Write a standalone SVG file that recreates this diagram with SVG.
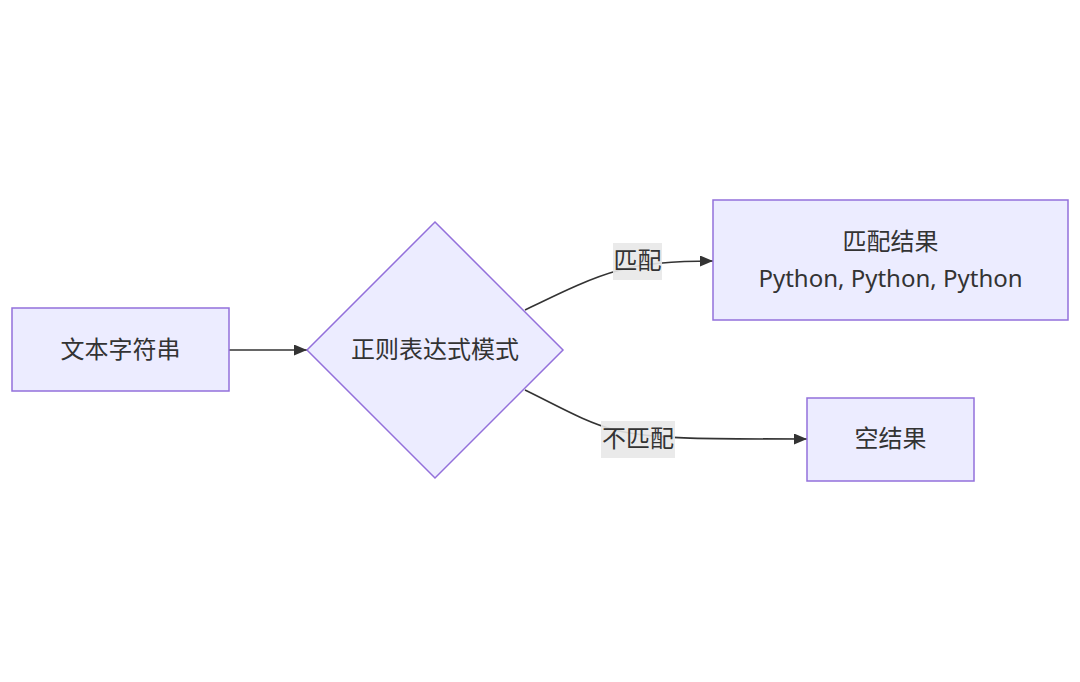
<svg xmlns="http://www.w3.org/2000/svg" width="1080" height="682" viewBox="0 0 1080 682">
<defs>
<style>
.node{fill:#ECECFF;stroke:#9370DB;stroke-width:1.5}
.t{font-family:"Noto Sans","Noto Sans CJK SC",sans-serif;font-size:24px;fill:#333;text-anchor:middle;dominant-baseline:central}
.e{fill:none;stroke:#333;stroke-width:1.6}
.lb{fill:#E8E8E8;opacity:0.9}
</style>
<marker id="arr" viewBox="0 0 13 11" refX="13" refY="5.5" markerWidth="13" markerHeight="11" markerUnits="userSpaceOnUse" orient="auto">
<path d="M0,0 L13,5.5 L0,11 z" fill="#333"/>
</marker>
</defs>
<rect width="1080" height="682" fill="#fff"/>
<g id="edges">
<path class="e" d="M229,350 L307,350" marker-end="url(#arr)"/>
<path class="e" d="M525,310 C560,293 590,278 620,270 C645,263 680,261 713,261" marker-end="url(#arr)"/>
<path class="e" d="M525,390 C560,407 585,422 615,430 C650,439 700,439 807,439" marker-end="url(#arr)"/>
<g id="label-match">
<rect class="lb" x="613" y="243" width="49" height="37"/>
<text class="t" x="637.5" y="259.5">匹配</text>
</g>
<g id="label-nomatch">
<rect class="lb" x="601" y="421" width="74" height="37"/>
<text class="t" x="638" y="437.5">不匹配</text>
</g>
</g>
<g id="node-text">
<rect class="node" x="12" y="308" width="217" height="83"/>
<text class="t" x="120.5" y="348.5">文本字符串</text>
</g>
<g id="node-regex">
<polygon class="node" points="435,222 563,350 435,478 307,350"/>
<text class="t" x="435" y="348.5">正则表达式模式</text>
</g>
<g id="node-match">
<rect class="node" x="713" y="200" width="355" height="120"/>
<text class="t" x="890.5" y="240.5">匹配结果</text>
<text class="t" x="890.5" y="277.5">Python, Python, Python</text>
</g>
<g id="node-empty">
<rect class="node" x="807" y="398" width="167" height="83"/>
<text class="t" x="890.5" y="437.5">空结果</text>
</g>
</svg>
